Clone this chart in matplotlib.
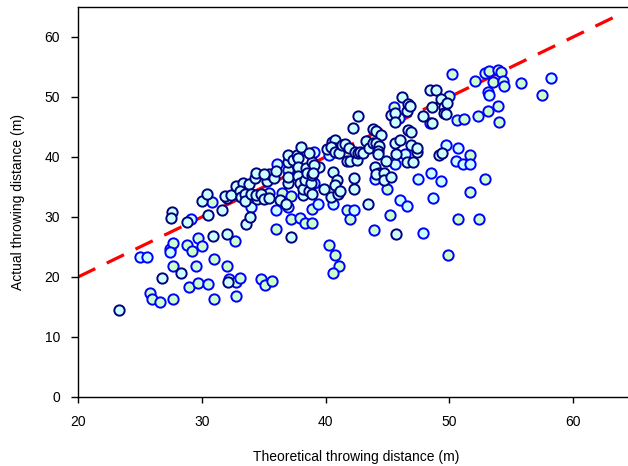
import numpy as np
import matplotlib.pyplot as plt

plt.rcParams['font.family'] = ['Liberation Sans', 'DejaVu Sans']

# navy edge, light cyan fill
xa = [23.3, 26.8, 27.6, 27.5, 28.3, 28.8, 30.0, 30.4, 30.5, 30.9, 31.6, 32.0, 31.9, 32.4, 32.0,
      32.1, 32.8, 33.3, 33.1, 33.2, 33.5, 33.5, 33.8, 33.6, 33.9, 34.0, 34.3, 34.4, 34.5, 34.4,
      34.8, 35.0, 35.4, 35.3, 35.4, 35.0, 35.8, 36.0, 36.3, 36.8, 37.2, 37.0, 37.0, 37.0, 37.0,
      37.4, 37.7, 37.8, 37.8, 37.8, 37.9, 38.0, 38.2, 38.2, 38.3, 38.4, 38.5, 38.7, 38.8, 38.9,
      38.9, 38.7, 38.9, 39.5, 39.1, 39.0, 39.9,
      40.1, 40.4, 40.6, 40.5, 40.8, 40.8, 40.4, 40.8, 40.9, 40.8, 41.0, 41.1, 41.2, 41.3, 41.6,
      41.9, 41.7, 42.0, 42.5, 42.2, 42.3, 42.3, 42.4, 42.6, 42.8, 42.6, 43.0, 43.3, 43.4, 43.5,
      43.8, 44.1, 44.5, 43.8, 44.1, 44.3, 44.0, 44.2, 44.2, 44.3, 44.1, 44.7, 44.7, 44.9, 45.3,
      45.3, 45.6, 45.6, 45.7, 45.7, 45.6, 46.0, 46.2, 46.6, 46.6, 46.7, 46.8, 46.7, 46.9, 46.9,
      47.1, 47.4, 47.4, 47.9, 48.4, 48.9, 48.6, 48.6, 49.2, 49.4, 49.3, 49.6, 49.6, 49.7, 49.8]
ya = [14.5, 19.8, 30.9, 29.9, 20.6, 29.1, 32.7, 33.8, 30.3, 26.9, 31.1, 33.1, 33.5, 33.6, 27.2,
      19.2, 35.1, 35.7, 34.3, 33.3, 33.9, 32.7, 35.5, 28.9, 30.0, 33.9, 36.5, 37.4, 33.0, 33.7,
      33.9, 33.0, 33.2, 36.0, 37.2, 37.1, 36.5, 37.7, 32.8, 32.1, 26.6, 35.6, 36.7, 39.2, 40.4,
      39.5, 40.3, 39.9, 38.4, 36.9, 35.7, 41.7, 33.6, 34.7, 36.1, 38.2, 37.3, 34.4, 35.7, 37.0,
      39.1, 40.7, 33.8, 38.4, 38.6, 37.3, 34.7,
      41.3, 33.4, 37.5, 42.5, 42.9, 41.5, 41.6, 40.8, 36.1, 35.3, 33.9, 40.6, 34.3, 42.0, 42.2,
      41.5, 39.3, 39.3, 39.5, 44.8, 36.5, 34.6, 40.9, 40.6, 40.8, 46.8, 40.7, 42.6, 32.2, 41.5,
      44.7, 44.4, 43.7, 42.4, 42.3, 41.8, 38.4, 41.0, 40.5, 37.4, 37.1, 37.3, 36.1, 39.3, 36.6,
      47.0, 47.3, 42.3, 40.5, 27.2, 45.8, 42.8, 50.0, 39.2, 47.6, 48.9, 48.5, 44.5, 44.1, 42.0,
      39.2, 40.9, 41.5, 46.9, 51.2, 51.2, 48.3, 45.6, 40.3, 40.6, 49.7, 48.4, 47.4, 47.1, 49.0]

# blue edge, light green fill
xb = [25.8, 26.0, 26.6, 27.7, 27.7, 27.4, 27.7, 28.8, 29.0, 29.2, 29.5, 29.7, 29.7, 30.0, 30.5,
      30.8, 31.0, 31.0, 32.7, 32.0, 32.2, 32.8, 33.1, 32.8, 34.8, 35.1, 35.7, 35.4, 36.0, 36.5,
      37.2, 37.2, 37.0, 38.9, 37.9, 38.3, 38.9,
      40.3, 40.8, 41.1, 40.6, 41.7, 42.0, 43.9, 45.0, 45.2, 45.5,
      48.4, 50.0, 50.2, 50.6, 51.2, 52.1, 52.9, 53.2, 53.1, 53.5, 53.9, 54.2, 54.3, 54.4, 55.8,
      57.5, 52.3, 53.1, 53.9, 54.0, 51.7, 51.7, 50.7, 52.4, 49.9, 52.9]
yb = [17.3, 16.4, 15.9, 16.3, 21.8, 24.6, 25.7, 25.4, 18.4, 24.3, 21.8, 19.0, 26.5, 25.1, 18.8,
      32.5, 23.0, 16.4, 26.0, 21.8, 19.6, 19.1, 19.9, 16.8, 19.6, 18.7, 19.3, 34.0, 28.0, 34.0,
      29.6, 33.5, 37.9, 31.4, 29.9, 29.0, 29.0,
      25.3, 23.7, 21.9, 20.6, 31.2, 29.7, 27.9, 34.6, 30.3, 48.3,
      45.6, 50.1, 53.9, 46.1, 46.3, 52.6, 54.0, 54.3, 50.8, 52.5, 54.5, 54.1, 52.6, 51.8, 52.3,
      50.4, 46.8, 47.6, 48.5, 45.9, 40.3, 34.2, 29.6, 29.7, 23.7, 36.3]

# blue edge, light cyan fill
xc = [25.0, 25.6, 27.4, 29.1, 34.0, 36.1, 36.0, 37.0, 39.1, 39.1, 39.4,
      40.3, 40.6, 42.3, 44.0, 45.6, 45.9, 46.0, 46.4, 46.6, 47.5, 47.9, 48.5, 48.7,
      49.7, 49.3, 50.5, 50.7, 51.1, 51.7, 53.2, 58.2]
yc = [23.3, 23.3, 24.1, 29.6, 31.6, 38.8, 31.1, 31.6, 40.9, 35.7, 32.1,
      40.3, 32.1, 31.1, 36.3, 38.8, 46.5, 32.8, 40.5, 31.8, 36.4, 27.3, 37.3, 33.1,
      42.0, 36.0, 39.4, 41.5, 38.8, 38.8, 50.3, 53.1]

# 1:1 reference line
line_x = [20, 64]

fig = plt.figure(figsize=(6.28, 4.66), dpi=100)
ax = fig.add_axes([78 / 628, 69 / 466, 557 / 628, 390 / 466])

ax.plot(line_x, line_x, color='#ff0000', lw=2.3, dashes=(6, 4), zorder=1)

ax.scatter(xb, yb, s=55, facecolor='#ccffcc', edgecolor='#0000ff', linewidths=1.4, zorder=2)
ax.scatter(xc, yc, s=55, facecolor='#ccffff', edgecolor='#0000ff', linewidths=1.4, zorder=2)
ax.scatter(xa, ya, s=55, facecolor='#ccffff', edgecolor='#000080', linewidths=1.4, zorder=3)

ax.set_xlim(20, 65)
ax.set_ylim(0, 65)
ax.set_xticks([20, 30, 40, 50, 60])
ax.set_yticks([0, 10, 20, 30, 40, 50, 60])
ax.tick_params(axis='x', direction='out', length=4, width=1, pad=9, labelsize=10)
ax.tick_params(axis='y', direction='out', length=5, width=1, pad=8, labelsize=10)
for sp in ax.spines.values():
    sp.set_linewidth(1.0)

ax.set_xlabel('Theoretical throwing distance (m)', fontsize=10, labelpad=15)
ax.set_ylabel('Actual throwing distance (m)', fontsize=10, labelpad=14)

fig.savefig('out.png', dpi=100)
